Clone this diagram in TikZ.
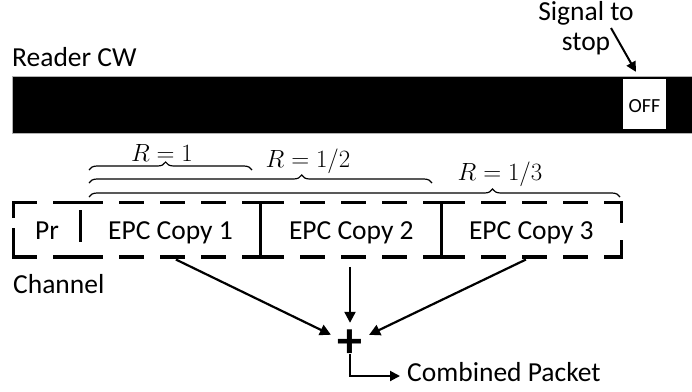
\documentclass[tikz,border=0pt]{standalone}
\usepackage{fontspec}
\setmainfont{Carlito}
\usetikzlibrary{arrows.meta,decorations.pathreplacing}
\begin{document}
\begin{tikzpicture}[x=1pt,y=-1pt,
  lbl/.style={font=\fontsize{27.5}{29.5}\selectfont, inner sep=0pt},
  cell/.style={lbl, minimum height=54.2pt, text height=22pt, text depth=3pt, anchor=center},
  dashline/.style={line width=3.2pt, line cap=rect, dash pattern=on 22pt off 19pt},
  solidline/.style={line width=3.2pt, line cap=rect},
  arr/.style={line width=2.2pt, -{Triangle[length=11pt,width=11pt]}},
  arrsmall/.style={line width=2pt, -{Triangle[length=10pt,width=10pt]}},
  rlabel/.style={font=\fontsize{23.5}{28}\selectfont, inner sep=0pt, anchor=base}
]
\useasboundingbox (0,0) rectangle (692,391);

% Reader CW bar
\node[lbl, anchor=base west] (reader) at (12,66) {Reader CW};
\node[fill=black, draw=gray!60, line width=0.8pt, minimum width=684pt, minimum height=57pt,
      inner sep=0pt, anchor=north west] (cw) at (12,76) {};
\node[fill=white, minimum width=43.3pt, minimum height=50pt, inner sep=0pt,
      text height=16pt, text depth=0pt, font=\fontsize{20}{24}\selectfont] (off) at (644.4,104) {OFF};

% Signal to stop
\node[lbl, anchor=base] (sig1) at (586,20.7) {Signal to};
\node[lbl, anchor=base] (sig2) at (586,50) {stop};
\coordinate (sigtail) at (611,28);
\draw[arrsmall, shorten >=8pt] (sigtail) -- ([xshift=-4.5pt]off.north);

% Braces and rate labels
\draw[decorate, decoration={brace, amplitude=8pt, aspect=0.47}, line width=1.2pt] (89,170) -- (252,170);
\draw[decorate, decoration={brace, amplitude=8pt, aspect=0.62}, line width=1.2pt] (89,183) -- (432,183);
\draw[decorate, decoration={brace, amplitude=8pt, aspect=0.76}, line width=1.2pt] (89,197) -- (620,197);
\node[rlabel] (r1) at (162,161) {$R=1$};
\node[rlabel] (r2) at (308,167) {$R=1/2$};
\node[rlabel] (r3) at (500,180) {$R=1/3$};

% Packet cells
\node[cell, minimum width=66pt] (pr) at (47,229.6) {Pr};
\node[cell, minimum width=181pt] (c1) at (170.5,229.6) {EPC Copy 1};
\node[cell, minimum width=180.7pt] (c2) at (351.35,229.6) {EPC Copy 2};
\node[cell, minimum width=179.3pt] (c3) at (531.35,229.6) {EPC Copy 3};
\foreach \n in {pr,c1,c2,c3} {
  \draw[dashline] (\n.north west) -- (\n.north east);
  \draw[dashline] (\n.south west) -- (\n.south east);
}
\draw[dashline, dash pattern=on 14pt off 13pt on 40pt] (pr.north west) -- (pr.south west);
\draw[dashline, dash pattern=on 29pt off 40pt, dash phase=60pt] (pr.north east) -- (pr.south east);
\draw[solidline] (c2.north west) -- (c2.south west);
\draw[solidline] (c3.north west) -- (c3.south west);
\draw[dashline, dash pattern=on 19pt off 20pt on 40pt] (c3.north east) -- (c3.south east);

\node[lbl, anchor=base west] (ch) at (13,293) {Channel};

% Combining
\node[circle, minimum size=42pt, inner sep=0pt, font=\fontsize{50}{50}\selectfont\bfseries] (plus) at (350,344) {+};
\draw[arr, shorten <=6pt] (c1.south) -- (plus);
\draw[arr, shorten <=10pt] (c2.south -| plus) -- (plus);
\draw[arr, shorten <=6pt] (c3.south) -- (plus);

\node[lbl, anchor=base west, text height=17pt, text depth=7pt] (cp) at (407,381) {Combined Packet};
\draw[arrsmall, shorten >=7pt] ([yshift=-10pt]plus.center) |- (cp.west);
\end{tikzpicture}
\end{document}
